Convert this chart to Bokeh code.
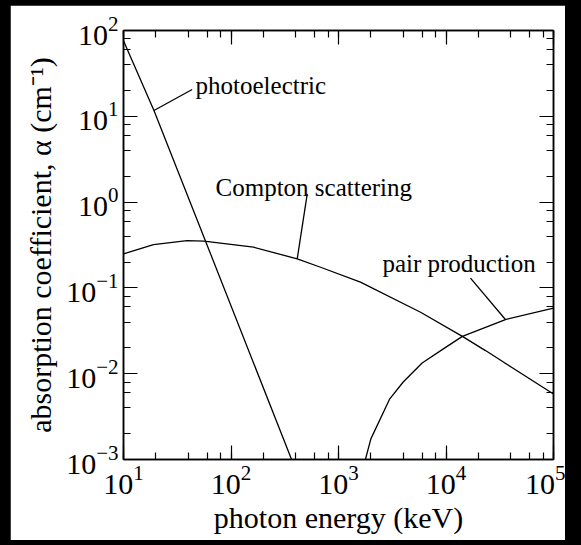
from bokeh.plotting import figure
from bokeh.models import LogAxis, LogTicker, Label, ColumnDataSource, CustomJSTickFormatter
from bokeh.embed import file_html
from bokeh.resources import INLINE

# ---- data ----
photo_E = [10, 19.2, 58, 366]
photo_a = [76, 11.7, 0.35, 0.001]

compton_E = [10, 19, 39, 56, 162, 413, 681, 1600, 5800, 14200, 23300, 100000]
compton_a = [0.25, 0.32, 0.356, 0.35, 0.298, 0.218, 0.174, 0.117, 0.052, 0.0272, 0.0186, 0.0058]

pair_E = [1780, 2000, 3000, 4000, 6000, 10000, 14200, 35700, 100000]
pair_a = [0.001, 0.00174, 0.0051, 0.0080, 0.0133, 0.0204, 0.0272, 0.0428, 0.058]

labels = ["photoelectric", "Compton scattering", "pair production"]
label_E = [46.8, 71.8, 2560]
label_a = [22.9, 1.47, 0.191]
leader_E0 = [43.5, 512, 16900]
leader_a0 = [20.5, 1.25, 0.130]
leader_E1 = [19.2, 413, 35700]
leader_a1 = [11.7, 0.218, 0.0428]

x_range = (10, 1e5)
y_range = (1e-3, 1e2)
x_label = "photon energy (keV)"
y_label = "absorption coefficient, \u03b1 (cm\u207b\u00b9)"

FONT = "Liberation Serif"

p = figure(width=555, height=535, x_axis_type="log", y_axis_type="log",
           x_range=x_range, y_range=y_range,
           output_backend="svg", toolbar_location=None,
           min_border_left=113, min_border_right=12,
           min_border_top=25, min_border_bottom=81)
p.grid.visible = False
p.outline_line_color = "black"
p.outline_line_width = 1.5
p.background_fill_color = "white"
p.border_fill_color = "white"

xt = LogTicker(desired_num_ticks=5)
yt = LogTicker(desired_num_ticks=6)

p.xaxis.ticker = xt
p.yaxis.ticker = yt
blank = CustomJSTickFormatter(code="return ''")
p.add_layout(LogAxis(ticker=xt, formatter=blank), "above")
p.add_layout(LogAxis(ticker=yt, formatter=blank), "right")

for ax in p.axis:
    ax.axis_line_color = "black"
    ax.axis_line_width = 1.5
    ax.major_tick_in = 14
    ax.major_tick_out = 0
    ax.minor_tick_in = 7
    ax.minor_tick_out = 0
    ax.major_tick_line_color = "black"
    ax.minor_tick_line_color = "black"
    ax.major_tick_line_width = 1.2
    ax.minor_tick_line_width = 1.2
    ax.major_label_text_font = FONT
    ax.major_label_text_font_size = "30px"
    ax.major_label_text_color = "black"
    ax.axis_label_text_font = FONT
    ax.axis_label_text_font_size = "30px"
    ax.axis_label_text_font_style = "normal"
    ax.axis_label_text_color = "black"

for ax in p.above + p.right:
    ax.major_label_text_font_size = "1px"
    ax.major_label_standoff = 0

bottom = p.below[0]
left = p.left[0]
bottom.axis_label = x_label
left.axis_label = y_label
bottom.major_label_standoff = 6
left.major_label_standoff = 5
bottom.axis_label_standoff = 4
left.axis_label_standoff = 6

p.line(photo_E, photo_a, line_color="black", line_width=1.3)
p.line(compton_E, compton_a, line_color="black", line_width=1.3)
p.line(pair_E, pair_a, line_color="black", line_width=1.3)

seg = ColumnDataSource(dict(x0=leader_E0, y0=leader_a0, x1=leader_E1, y1=leader_a1))
p.segment("x0", "y0", "x1", "y1", source=seg, line_color="black", line_width=1.3)

for t, e, a in zip(labels, label_E, label_a):
    p.add_layout(Label(x=e, y=a, text=t, text_font=FONT, text_font_size="25px",
                       text_color="black", text_baseline="alphabetic", text_align="left"))

html = file_html(p, INLINE)
html = html.replace("</head>",
                    "<style>html, body { background-color: #000000 !important; }"
                    " body { padding: 5px 0 0 10px !important; }</style></head>", 1)
open("out.html", "w").write(html)
